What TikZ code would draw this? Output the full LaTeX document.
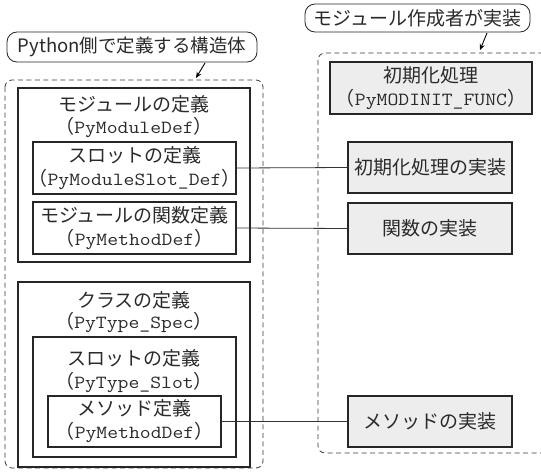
\documentclass[tikz,border=0pt]{standalone}
\usepackage{fontspec}
\setmainfont{Noto Sans CJK JP}
\newfontfamily\courfont[FakeStretch=1.14]{Latin Modern Mono}
\usetikzlibrary{arrows.meta}
\definecolor{txt}{HTML}{2A2A2A}
\definecolor{boxfill}{HTML}{EDEDED}
\definecolor{dashc}{HTML}{3A3A3A}
\tikzset{
  x=1pt, y=-1pt,
  every node/.style={inner sep=0pt, outer sep=0pt, text=txt, font=\fontsize{19}{23}\selectfont, align=center},
  frame/.style={draw=black!85, line width=1.3pt},
  impl/.style={frame, fill=boxfill},
  region/.style={draw=dashc, line width=0.8pt, dash pattern=on 5pt off 3.5pt, rounded corners=7pt},
  tag/.style={draw=black!85, line width=0.8pt, rounded corners=10pt},
  link/.style={draw=black!80, line width=0.8pt},
  pointer/.style={draw=black, line width=0.9pt, -{Stealth[length=6pt,width=5pt]}}
}
\newcommand{\mtt}[1]{{\fontsize{18.5}{23}\selectfont\courfont #1}}
\begin{document}
\begin{tikzpicture}
\useasboundingbox (0,0) rectangle (541,474);
\begin{scope}
\clip (0,0) rectangle (541,474);
% regions
\draw[region] (5,80) rectangle (263,468);
\draw[region] (318,53) rectangle (570,453);
% tags
\node[tag, minimum width=250pt, minimum height=30pt, font=\fontsize{18.5}{23}\selectfont] (tagL) at (132,47) {Python側で定義する構造体};
\node[tag, minimum width=225pt, minimum height=28pt] (tagR) at (417.5,18) {モジュール作成者が実装};
\coordinate (tipL) at (196,78);
\coordinate (tipR) at (480,50);
\draw[pointer] (205,63) -- (tipL);
\draw[pointer] (487,33) -- (tipR);
% module definition
\node[frame, minimum width=232pt, minimum height=174pt] (mod) at (134,175) {};
\node (modt) at (134,104) {モジュールの定義};
\node (modc) at (134,127) {（\mtt{PyModuleDef}）};
\node[frame, minimum width=203pt, minimum height=52pt] (slot) at (134.5,168) {};
\node (slott) at (slot.center) {スロットの定義\\（\mtt{PyModuleSlot\_Def}）};
\node[frame, minimum width=203pt, minimum height=52pt] (func) at (134.5,228) {};
\node (funct) at (func.center) {モジュールの関数定義\\（\mtt{PyMethodDef}）};
% class definition
\node[frame, minimum width=232pt, minimum height=185pt] (cls) at (134,374.5) {};
\node (clst) at (134,300) {クラスの定義};
\node (clsc) at (134,322) {（\mtt{PyType\_Spec}）};
\node[frame, minimum width=203pt, minimum height=120pt] (tslot) at (134.5,397) {};
\node (tslt) at (134,358) {スロットの定義};
\node (tslc) at (134,382) {（\mtt{PyType\_Slot}）};
\node[frame, minimum width=173pt, minimum height=51pt] (meth) at (134.5,421.5) {メソッド定義\\（\mtt{PyMethodDef}）};
% implementations
\node[impl, minimum width=202pt, minimum height=52pt] (init) at (431,88) {初期化処理\\（\mtt{PyMODINIT\_FUNC}）};
\node[impl, minimum width=164pt, minimum height=51pt] (initimpl) at (430,167.5) {初期化処理の実装};
\node[impl, minimum width=164pt, minimum height=51pt] (funcimpl) at (430,228.5) {関数の実装};
\node[impl, minimum width=164pt, minimum height=51pt] (methimpl) at (430,421.5) {メソッドの実装};
% links
\draw[link] (slot.east) -- (initimpl.west);
\draw[link] (func.east) -- (funcimpl.west);
\draw[link] (meth.east) -- (methimpl.west);
\end{scope}
\end{tikzpicture}
\end{document}
